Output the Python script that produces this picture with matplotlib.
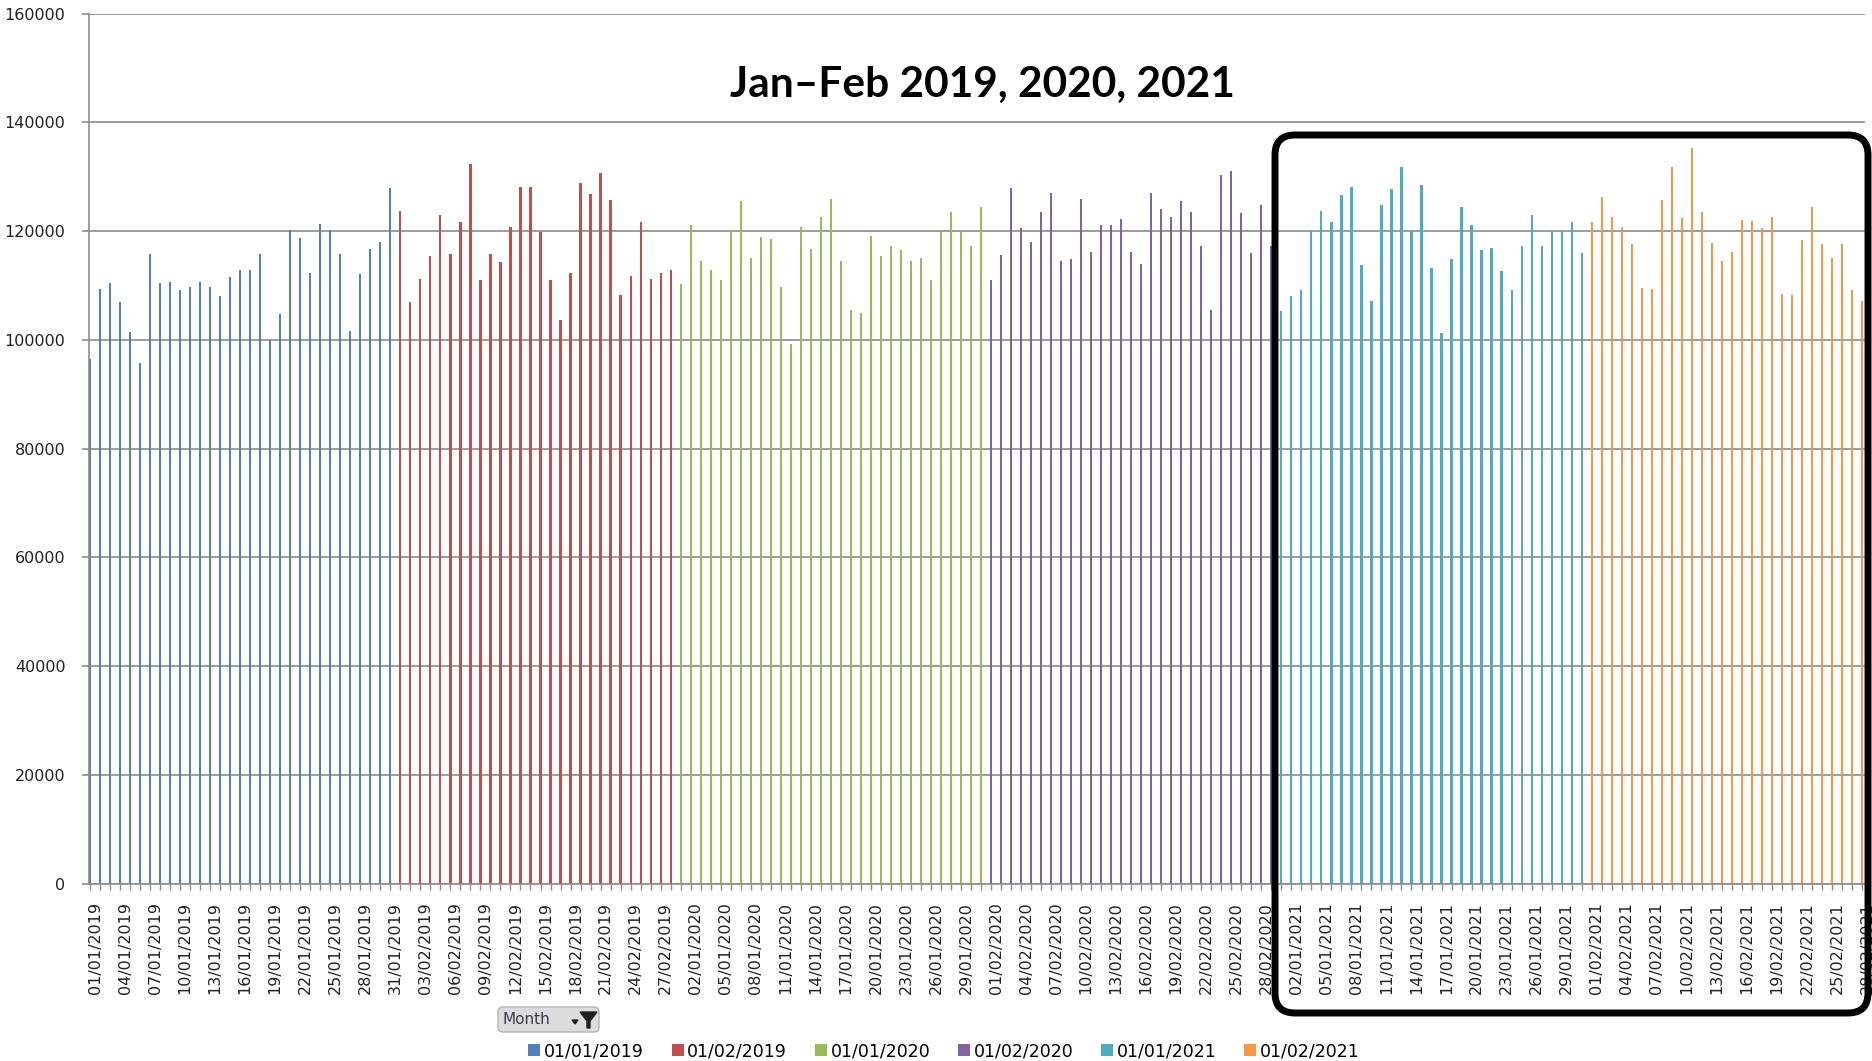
import matplotlib
matplotlib.use("Agg")
import matplotlib.pyplot as plt
import matplotlib.transforms as mtransforms
from matplotlib.patches import FancyBboxPatch, Polygon
import pandas as pd

# Daily values, one list per month
jan2019 = [96500, 109300, 110400, 106900, 101400, 95700, 115800, 110400, 110700, 109100,
           109700, 110700, 109700, 108000, 111600, 112900, 112900, 115800, 100000, 104700,
           120200, 118700, 112400, 121300, 120200, 115800, 101700, 112100, 116700, 118100,
           127900]
feb2019 = [123800, 106900, 111300, 115400, 123000, 115800, 121700, 132300, 111000, 115800,
           114300, 120800, 128200, 128200, 119800, 111000, 103600, 112400, 128800, 126900,
           130700, 125800, 108300, 111800, 121700, 111300, 112400, 112900]
jan2020 = [110200, 121100, 114600, 112900, 111000, 120300, 125500, 115100, 118900, 118600,
           109700, 99200, 120800, 116700, 122700, 126000, 114600, 105500, 105000, 119200,
           115400, 117300, 116500, 114600, 115100, 111000, 119800, 123600, 119800, 117300,
           124400]
feb2020 = [111000, 115600, 127900, 120600, 118100, 123600, 127100, 114600, 114800, 126000,
           116200, 121100, 121100, 122200, 116200, 114000, 127100, 124100, 122700, 125500,
           123600, 117300, 105500, 130400, 131100, 123300, 115900, 124900, 117300]
jan2021 = [105300, 108000, 109100, 120300, 123800, 121700, 126600, 128200, 113700, 107200,
           124900, 127700, 131800, 120000, 128500, 113200, 101200, 114800, 124400, 121100,
           116500, 117000, 112600, 109100, 117300, 123000, 117300, 120000, 120300, 121700,
           115900]
feb2021 = [121700, 126300, 122700, 120800, 117600, 109600, 109300, 125800, 131800, 122400,
           135300, 123500, 117800, 114500, 116100, 122100, 121900, 120500, 122700, 108500,
           108300, 118400, 124400, 117600, 115100, 117600, 109100, 107200]

month_keys = ["01/01/2019", "01/02/2019", "01/01/2020", "01/02/2020", "01/01/2021", "01/02/2021"]
month_values = [jan2019, feb2019, jan2020, feb2020, jan2021, feb2021]
month_colors = ["#4F81BD", "#C0504D", "#9BBB59", "#8064A2", "#4BACC6", "#F79646"]
title_text = "Jan\u2013Feb 2019, 2020, 2021"

W, H = 1872, 1061
fig = plt.figure(figsize=(W / 100, H / 100), dpi=100)
ax = fig.add_axes([89 / W, 1 - 883.7 / H, (1865 - 89) / W, (883.7 - 13.7) / H])

# Build the category labels (dd/mm/yyyy) and draw one bar series per month
labels = []
start = 0
handles = []
for key, vals, col in zip(month_keys, month_values, month_colors):
    first = pd.to_datetime(key, format="%d/%m/%Y")
    days = pd.date_range(first, periods=len(vals), freq="D")
    labels += [d.strftime("%d/%m/%Y") for d in days]
    xs = list(range(start, start + len(vals)))
    h = ax.bar(xs, vals, width=0.22, color=col, linewidth=0, label=key)
    handles.append(h)
    start += len(vals)

n = len(labels)
ax.set_xlim(-0.1, n - 1 + 0.3)
ax.set_ylim(0, 160000)
ax.set_yticks(range(0, 160001, 20000))
ax.set_yticklabels([str(v) for v in range(0, 160001, 20000)])
ax.yaxis.grid(True, color="#8c8c8c", linewidth=1.2)
ax.set_axisbelow(True)

major = list(range(0, n, 3))
ax.set_xticks(major)
ax.set_xticklabels([labels[i] for i in major], rotation=90, ha="center", va="top")
ax.set_xticks(list(range(n)), minor=True)

for s in ["top", "right"]:
    ax.spines[s].set_visible(False)
for s in ["left", "bottom"]:
    ax.spines[s].set_color("#8c8c8c")
    ax.spines[s].set_linewidth(1.2)

ax.tick_params(axis="y", length=5, width=1.2, color="#8c8c8c", pad=12,
               labelsize=11.5, labelcolor="#222222")
ax.tick_params(axis="x", which="both", length=4, width=1.0, color="#8c8c8c", pad=9,
               labelsize=11.5, labelcolor="#222222")

shift = mtransforms.ScaledTranslation(5 / 100, 0, fig.dpi_scale_trans)
for lab in ax.get_xticklabels():
    lab.set_transform(lab.get_transform() + shift)

# Title inside the plot area
fig.text(982 / W, 1 - 85 / H, title_text, ha="center", va="center",
         fontsize=30.5, fontweight="bold", family="Lato", color="black")

# Highlight frame around the 2021 months (pixel coordinates)
px = mtransforms.IdentityTransform()
bx0, bx1, by_top, by_bot = 1275, 1868, 135, 1013
frame = FancyBboxPatch((bx0, H - by_bot), bx1 - bx0, by_bot - by_top,
                       boxstyle="round,pad=0,rounding_size=20",
                       transform=px, fill=False, edgecolor="black",
                       linewidth=5, zorder=10)
fig.patches.append(frame)

# "Month" field button
btn = FancyBboxPatch((498, H - 1032), 101, 25,
                     boxstyle="round,pad=0,rounding_size=5",
                     transform=px, facecolor="#dcdcdc", edgecolor="#b4b4b4",
                     linewidth=1.0)
fig.patches.append(btn)
fig.text(503 / W, 1 - 1019.5 / H, "Month", ha="left", va="center",
         fontsize=11, color="#3c3c50", family="DejaVu Sans")
funnel = Polygon([(580, H - 1012), (597, H - 1012), (590, H - 1021),
                  (590, H - 1028), (587, H - 1028), (587, H - 1021)],
                 closed=True, transform=px, facecolor="#202020", edgecolor="#202020")
fig.patches.append(funnel)
arrow = Polygon([(572, H - 1020), (578, H - 1020), (575, H - 1024)],
                closed=True, transform=px, facecolor="#202020", edgecolor="#202020")
fig.patches.append(arrow)

fig.legend(handles=handles, labels=month_keys, loc="center", ncol=6,
           bbox_to_anchor=(944 / W, 1 - 1051 / H), frameon=False,
           fontsize=12.5, handlelength=0.7, handleheight=0.7,
           handletextpad=0.2, columnspacing=1.6, borderpad=0)

fig.savefig("out.png", dpi=100)
